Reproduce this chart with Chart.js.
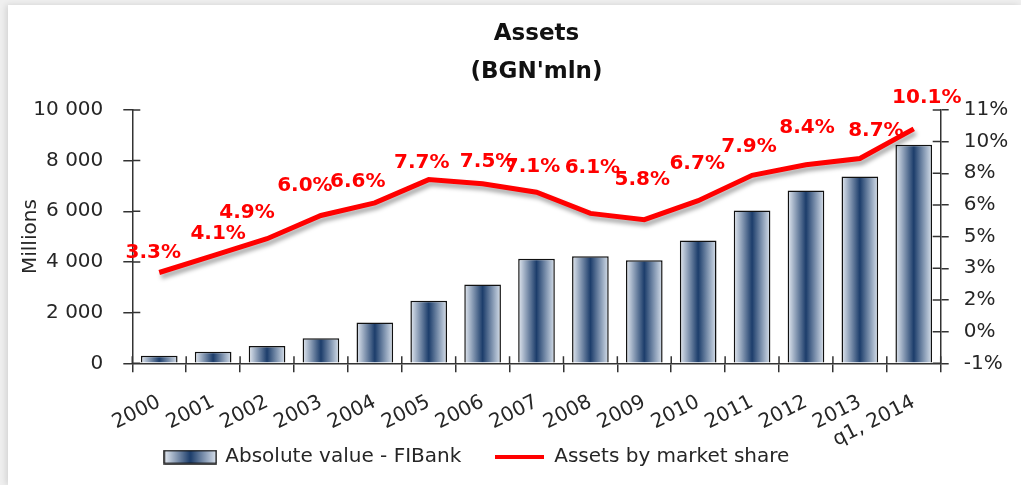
<!DOCTYPE html>
<html>
<head>
<meta charset="utf-8">
<script src="https://cdn.jsdelivr.net/npm/chart.js@4.4.1/dist/chart.umd.min.js"></script>
<style>
  html, body { margin: 0; padding: 0; background: #efefef; }
  #panel {
    position: absolute; left: 8px; top: 5px; width: 1013px; height: 480px;
    background: #fff; box-shadow: -2px 0 6px rgba(0,0,0,0.12);
  }
  #panel canvas { display: block; }
</style>
</head>
<body>
<div id="panel"><canvas id="assetsChart" width="1013" height="480"></canvas></div>
<script>
// chart data
const years = ['2000', '2001', '2002', '2003', '2004', '2005', '2006', '2007',
  '2008', '2009', '2010', '2011', '2012', '2013', 'q1, 2014'];
const assetsMln = [300, 460, 680, 990, 1610, 2470, 3110, 4130, 4220, 4070,
  4850, 6030, 6820, 7370, 8620];
const marketShare = [3.3, 4.1, 4.9, 6.0, 6.6, 7.7, 7.5, 7.1, 6.1, 5.8, 6.7,
  7.9, 8.4, 8.7, 10.1];
const shareTickLabels = ['-1%', '0%', '2%', '3%', '5%', '6%', '8%', '10%', '11%'];

const FONT = 'DejaVu Sans';
const TEXT = '#262626';
const AXIS = '#333';
const BAR_PCT = 0.68;

// the percent labels in the original were nudged by hand, offsets from each point
const labelNudge = [[-6, -20], [5, -22], [-20, -26], [-16, -30], [-17, -21],
  [-7, -17], [5, -22], [-4, -25], [2, -46], [-2, -40], [-1, -37], [-3, -29],
  [1, -37], [16, -28], [13, -31]];

function barGradient(ctx, x0, x1) {
  const g = ctx.createLinearGradient(x0, 0, x1, 0);
  g.addColorStop(0, '#e4eaf2');
  g.addColorStop(0.5, '#1c3d6b');
  g.addColorStop(1, '#d8e1ec');
  return g;
}

// legend icons
const barIcon = document.createElement('canvas');
barIcon.width = 54; barIcon.height = 15;
(function () {
  const c = barIcon.getContext('2d');
  c.fillStyle = barGradient(c, 1, 53);
  c.fillRect(1, 1, 52, 13);
  c.strokeStyle = '#111'; c.lineWidth = 1.5;
  c.strokeRect(1, 1, 52, 13);
})();
const lineIcon = document.createElement('canvas');
lineIcon.width = 49; lineIcon.height = 6;
(function () {
  const c = lineIcon.getContext('2d');
  c.fillStyle = '#ff0000';
  c.fillRect(0, 1, 49, 4);
})();

// crossing tick marks (inner halves; the outer halves come from the grid)
const innerTicks = {
  id: 'innerTicks',
  // rotated x labels hang below the axis box, don't let them get clipped
  afterLayout(chart) {
    chart.scales.x.bottom = chart.height;
  },
  afterDraw(chart) {
    const ctx = chart.ctx;
    const {x, y, y1} = chart.scales;
    ctx.save();
    ctx.strokeStyle = AXIS;
    ctx.lineWidth = 1.5;
    ctx.beginPath();
    y.ticks.forEach((t, i) => {
      const py = y.getPixelForTick(i);
      ctx.moveTo(y.right, py); ctx.lineTo(y.right + 8, py);
    });
    y1.ticks.forEach((t, i) => {
      const py = y1.getPixelForTick(i);
      ctx.moveTo(y1.left, py); ctx.lineTo(y1.left - 8, py);
    });
    const step = x.width / years.length;
    for (let i = 0; i <= years.length; i++) {
      const px = x.left + i * step;
      ctx.moveTo(px, x.top); ctx.lineTo(px, x.top - 7);
    }
    ctx.stroke();
    ctx.restore();
  }
};

// shadow under the market share line
const lineShadow = {
  id: 'lineShadow',
  beforeDatasetDraw(chart, args) {
    if (args.index !== 1) return;
    const ctx = chart.ctx;
    ctx.save();
    ctx.shadowColor = 'rgba(0,0,0,0.35)';
    ctx.shadowBlur = 4;
    ctx.shadowOffsetX = 2;
    ctx.shadowOffsetY = 4;
  },
  afterDatasetDraw(chart, args) {
    if (args.index !== 1) return;
    chart.ctx.restore();
  }
};

// percent labels over the line
const shareLabels = {
  id: 'shareLabels',
  afterDatasetsDraw(chart) {
    const ctx = chart.ctx;
    const meta = chart.getDatasetMeta(1);
    ctx.save();
    ctx.font = 'bold 20px "' + FONT + '"';
    ctx.fillStyle = '#ff0000';
    ctx.textAlign = 'center';
    ctx.textBaseline = 'middle';
    meta.data.forEach((pt, i) => {
      const [dx, dy] = labelNudge[i];
      ctx.fillText(marketShare[i].toFixed(1) + '%', pt.x + dx, pt.y + dy);
    });
    ctx.restore();
  }
};

const chartData = {
  labels: years,
  datasets: [
    {
      type: 'bar',
      label: 'Absolute value - FIBank',
      data: assetsMln,
      yAxisID: 'y',
      order: 1,
      barPercentage: BAR_PCT,
      categoryPercentage: 1,
      borderColor: '#111',
      borderWidth: 1.5,
      borderSkipped: 'bottom',
      backgroundColor: (c) => {
        const xs = c.chart.scales.x;
        if (!xs || c.dataIndex === undefined) return '#1c3d6b';
        const bw = xs.width / years.length * BAR_PCT;
        const cx = xs.getPixelForValue(c.dataIndex);
        return barGradient(c.chart.ctx, cx - bw / 2, cx + bw / 2);
      }
    },
    {
      type: 'line',
      label: 'Assets by market share',
      data: marketShare,
      yAxisID: 'y1',
      order: 0,
      borderColor: '#ff0000',
      borderWidth: 5,
      pointRadius: 0,
      tension: 0,
      fill: false
    }
  ]
};

const chartConfig = {
  data: chartData,
  options: {
    responsive: false,
    animation: false,
    layout: { padding: { left: 0, right: 0, top: 0, bottom: 8 } },
    plugins: {
      tooltip: { enabled: false },
      title: {
        display: true,
        fullSize: false,
        text: ['Assets', "(BGN'mln)"],
        color: '#111',
        font: { family: FONT, size: 23, weight: 'bold', lineHeight: 1.65 },
        padding: { top: 10, bottom: 19 }
      },
      legend: {
        position: 'bottom',
        align: 'start',
        fullSize: false,
        labels: {
          usePointStyle: true,
          pointStyleWidth: 50,
          padding: 33,
          color: TEXT,
          font: { family: FONT, size: 20 },
          generateLabels: () => [
            { text: 'Absolute value - FIBank', pointStyle: barIcon, datasetIndex: 0,
              fontColor: TEXT, lineWidth: 0, strokeStyle: 'transparent', fillStyle: 'transparent' },
            { text: 'Assets by market share', pointStyle: lineIcon, datasetIndex: 1,
              fontColor: TEXT, lineWidth: 0, strokeStyle: 'transparent', fillStyle: 'transparent' }
          ]
        }
      }
    },
    scales: {
      x: {
        afterFit: (s) => { s.height = 50.7; },
        grid: { drawOnChartArea: false, color: AXIS, lineWidth: 1.5, tickLength: 9 },
        border: { color: AXIS, width: 1.5 },
        ticks: {
          color: TEXT, font: { family: FONT, size: 20 },
          autoSkip: false, minRotation: 27, maxRotation: 27, padding: 18
        }
      },
      y: {
        position: 'left',
        min: 0, max: 10000,
        afterFit: (s) => { s.width = 124.3; },
        grid: { drawOnChartArea: false, color: AXIS, lineWidth: 1.5, tickLength: 9 },
        border: { color: AXIS, width: 1.5 },
        ticks: {
          stepSize: 2000, padding: 20, color: TEXT, font: { family: FONT, size: 20 },
          callback: (v) => String(v).replace(/\B(?=(\d{3})+(?!\d))/g, ' ')
        },
        title: {
          display: true, text: 'Millions', color: TEXT,
          font: { family: FONT, size: 20 }, padding: { top: 11, bottom: 0 }
        }
      },
      y1: {
        position: 'right',
        min: -1, max: 11,
        afterFit: (s) => { s.width = 80.3; },
        grid: { drawOnChartArea: false, color: AXIS, lineWidth: 1.5, tickLength: 8 },
        border: { color: AXIS, width: 1.5 },
        ticks: {
          stepSize: 1.5, padding: 15, color: TEXT, font: { family: FONT, size: 20 },
          callback: (v, i) => shareTickLabels[i]
        }
      }
    }
  },
  plugins: [lineShadow, shareLabels, innerTicks]
};

const ctx = document.getElementById('assetsChart').getContext('2d');
new Chart(ctx, chartConfig);
</script>
</body>
</html>
